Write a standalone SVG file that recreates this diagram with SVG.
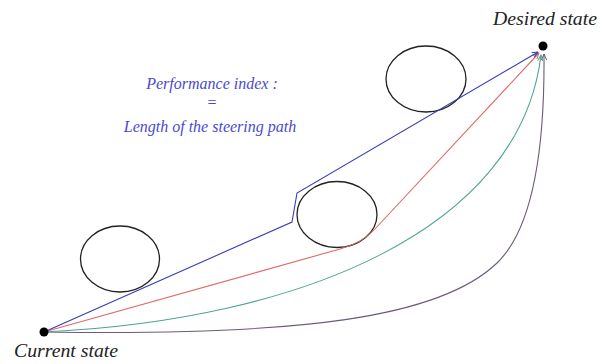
<svg xmlns="http://www.w3.org/2000/svg" width="603" height="364" viewBox="0 0 603 364">
<style>
.lbl{font-family:"Liberation Serif","DejaVu Serif",serif;font-style:italic;font-size:18px;fill:#222}
.idx{font-family:"Liberation Serif","DejaVu Serif",serif;font-style:italic;font-size:16px;fill:#4a4ad0;text-anchor:middle}
.obs{fill:none;stroke:#222;stroke-width:1.3}
.path{fill:none;stroke-width:1.1}
</style>
<defs>
<marker id="aB" viewBox="0 0 10 10" refX="9" refY="5" markerWidth="6" markerHeight="6" orient="auto"><path d="M0,1 L9,5 L0,9" fill="none" stroke="#3a3ab8" stroke-width="1.5"/></marker>
<marker id="aR" viewBox="0 0 10 10" refX="9" refY="5" markerWidth="6" markerHeight="6" orient="auto"><path d="M0,1 L9,5 L0,9" fill="none" stroke="#e06a6a" stroke-width="1.5"/></marker>
<marker id="aG" viewBox="0 0 10 10" refX="9" refY="5" markerWidth="6" markerHeight="6" orient="auto"><path d="M0,1 L9,5 L0,9" fill="none" stroke="#4fa396" stroke-width="1.5"/></marker>
<marker id="aP" viewBox="0 0 10 10" refX="9" refY="5" markerWidth="6" markerHeight="6" orient="auto"><path d="M0,1 L9,5 L0,9" fill="none" stroke="#6e5a78" stroke-width="1.5"/></marker>
</defs>
<g id="obstacle1"><ellipse class="obs" cx="120" cy="259" rx="39.5" ry="33"/></g>
<g id="obstacle2"><ellipse class="obs" cx="337" cy="214.5" rx="40" ry="33"/></g>
<g id="obstacle3"><ellipse class="obs" cx="426" cy="79" rx="40" ry="33"/></g>
<g id="connectors">
<path class="path" stroke="#6e5a78" marker-end="url(#aP)" d="M44,332 C300,336 440,318 497,263 C525,236 545,175 544,54"/>
<path class="path" stroke="#4fa396" marker-end="url(#aG)" d="M44,332 C300,320 520,230 541,55"/>
<path class="path" stroke="#e06a6a" marker-end="url(#aR)" d="M44,332 L340,249 Q362,243 374,230 L539,53"/>
<path class="path" stroke="#3a3ab8" marker-end="url(#aB)" d="M44,332 L292,222 L297,193 L538,52"/>
</g>
<g id="current-state"><circle cx="44" cy="332" r="4.5" fill="#000"/><text class="lbl" x="14" y="357" textLength="104" lengthAdjust="spacingAndGlyphs">Current state</text></g>
<g id="desired-state"><circle cx="543" cy="46" r="4.5" fill="#000"/><text class="lbl" x="493" y="25" textLength="104" lengthAdjust="spacingAndGlyphs">Desired state</text></g>
<g id="performance-index">
<text class="idx" x="212" y="89">Performance index :</text>
<text class="idx" x="212" y="108">=</text>
<text class="idx" x="210" y="132">Length of the steering path</text>
</g>
</svg>
